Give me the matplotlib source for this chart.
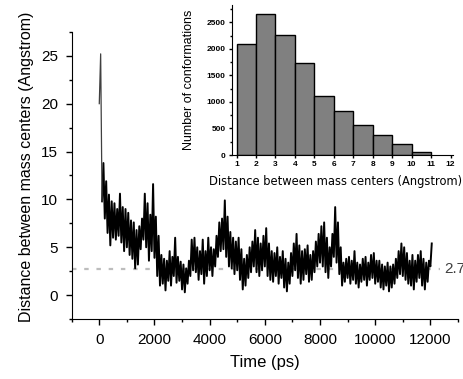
"""Distance between mass centers vs time, with histogram inset."""

import matplotlib

matplotlib.use("Agg")
import matplotlib.pyplot as plt
import numpy as np
from matplotlib.ticker import MultipleLocator

plt.rcParams["font.family"] = ["Liberation Sans", "DejaVu Sans"]

# trace envelope: per 100 ps window, low and high value (Angstrom)
time_ps = np.arange(0, 12001, 100)
trace_low = [
    20.0, 9.8, 8.0, 6.5, 5.2, 6.0, 5.8, 6.2, 5.5, 4.6,
    5.0, 4.2, 3.8, 2.8, 3.2, 4.8, 5.8, 5.0, 3.6, 4.6,
    3.9, 2.0, 1.0, 1.2, 0.5, 1.5, 1.0, 2.0, 1.3, 1.5,
    0.6, 0.3, 1.2, 2.0, 2.6, 2.4, 1.6, 2.2, 1.2, 2.0,
    2.6, 2.0, 3.0, 4.0, 4.6, 4.8, 4.0, 3.0, 2.8, 2.2,
    2.6, 1.6, 0.6, 1.0, 1.8, 2.4, 3.0, 2.4, 2.0, 2.6,
    3.0, 2.0, 1.6, 1.4, 2.0, 1.2, 1.8, 0.8, 0.4, 1.2,
    2.0, 2.6, 1.8, 1.2, 1.6, 2.2, 1.4, 1.6, 2.4, 3.0,
    3.4, 3.0, 2.4, 1.8, 3.0, 4.0, 3.4, 2.2, 1.0, 1.4,
    1.8, 1.2, 1.6, 1.2, 0.8, 1.4, 1.6, 1.0, 1.6, 1.8,
    1.2, 1.4, 0.8, 0.6, 1.0, 0.4, 0.8, 1.2, 1.8, 2.2,
    2.0, 1.6, 1.2, 1.0, 0.6, 1.4, 1.8, 1.0, 0.6, 1.4,
    3.0,
]
trace_high = [
    25.2, 13.8, 11.9, 10.5, 9.8, 9.6, 9.0, 10.6, 9.2, 9.0,
    8.6, 7.8, 7.6, 6.8, 7.2, 8.0, 10.6, 9.6, 8.4, 11.6,
    8.2, 6.2, 4.2, 3.8, 3.6, 4.6, 4.0, 6.0, 4.0, 3.5,
    3.2, 2.8, 3.6, 5.8, 6.0, 5.0, 4.6, 5.8, 4.6, 6.0,
    5.0, 4.8, 6.2, 7.6, 8.0, 9.9, 8.2, 6.6, 6.0, 5.6,
    6.0, 4.8, 3.8, 4.2, 5.0, 5.6, 6.8, 6.0, 5.4, 6.2,
    7.0, 5.4, 4.6, 4.4, 5.0, 4.0, 4.6, 3.8, 3.4, 4.4,
    5.4, 6.4, 5.2, 4.6, 4.8, 5.2, 4.2, 4.6, 5.6, 6.4,
    7.2, 7.6, 6.0, 5.0, 6.4, 9.2, 7.6, 5.0, 3.4, 3.8,
    4.0, 3.6, 4.6, 3.4, 3.2, 3.8, 4.0, 3.4, 4.2, 4.4,
    3.6, 3.6, 3.2, 3.0, 3.4, 3.0, 3.2, 3.8, 4.6, 5.4,
    5.0, 4.4, 3.6, 4.2, 3.6, 4.2, 4.6, 3.8, 3.4, 3.6,
    5.4,
]
reference_level = 2.7

# histogram inset
bin_edges = [1, 2, 3, 4, 5, 6, 7, 8, 9, 10, 11]
bin_counts = [2100, 2650, 2270, 1730, 1120, 830, 560, 370, 200, 60]

fig = plt.figure(figsize=(4.64, 3.79), dpi=100)
ax = fig.add_axes([0.1545, 0.158, 0.8325, 0.758])

# zig-zag between the low and high values of each window
zig_t = np.column_stack([time_ps, time_ps + 50]).ravel()
zig_v = np.column_stack([trace_low, trace_high]).ravel()
ax.plot(zig_t[2:], zig_v[2:], color="black", lw=1.4)
ax.plot(zig_t[:3], zig_v[:3], color="#404040", lw=0.9)

ax.plot([-1000, 12350], [reference_level] * 2, color="#bdbdbd", lw=1.6,
        dashes=(2, 3.5), zorder=1)
ax.text(12500, reference_level, "2.7", color="#404040", fontsize=11,
        ha="left", va="center")

ax.set_xlim(-1000, 13000)
ax.set_ylim(-2.5, 27.5)
ax.xaxis.set_major_locator(MultipleLocator(2000))
ax.xaxis.set_minor_locator(MultipleLocator(1000))
ax.yaxis.set_major_locator(MultipleLocator(5))
ax.yaxis.set_minor_locator(MultipleLocator(2.5))
ax.set_xticks([0, 2000, 4000, 6000, 8000, 10000, 12000])
ax.tick_params(which="major", direction="out", length=4, width=1, labelsize=11, pad=6)
ax.tick_params(which="minor", direction="out", length=2.5, width=1)
for side in ("top", "right"):
    ax.spines[side].set_visible(False)
ax.set_xlabel("Time (ps)", fontsize=12)
ax.set_ylabel("Distance between mass centers (Angstrom)", fontsize=11.5)
ax.xaxis.set_label_coords(0.5, -0.125)
ax.yaxis.set_label_coords(-0.098, 0.53)

ins = fig.add_axes([0.4994, 0.591, 0.4766, 0.396])
ins.bar(bin_edges[:-1], bin_counts, width=1, align="edge", color="#808080",
        edgecolor="black", lw=1)
ins.set_xlim(0.75, 12.12)
ins.set_ylim(0, 2830)
ins.set_xticks(range(1, 13))
ins.yaxis.set_major_locator(MultipleLocator(500))
ins.yaxis.set_minor_locator(MultipleLocator(250))
ins.tick_params(which="major", direction="out", length=2.5, width=1, labelsize=6, pad=2)
ins.tick_params(which="minor", direction="out", length=1.5, width=1)
for label in ins.get_xticklabels() + ins.get_yticklabels():
    label.set_fontweight("bold")
for side in ("top", "right"):
    ins.spines[side].set_visible(False)
ins.set_xlabel("Distance between mass centers (Angstrom)", fontsize=8.3,
               family="DejaVu Sans", ha="right")
ins.set_ylabel("Number of conformations", fontsize=9)
ins.xaxis.set_label_coords(1.04, -0.135)
ins.yaxis.set_label_coords(-0.165, 0.5)

fig.savefig("out.png", dpi=100)
